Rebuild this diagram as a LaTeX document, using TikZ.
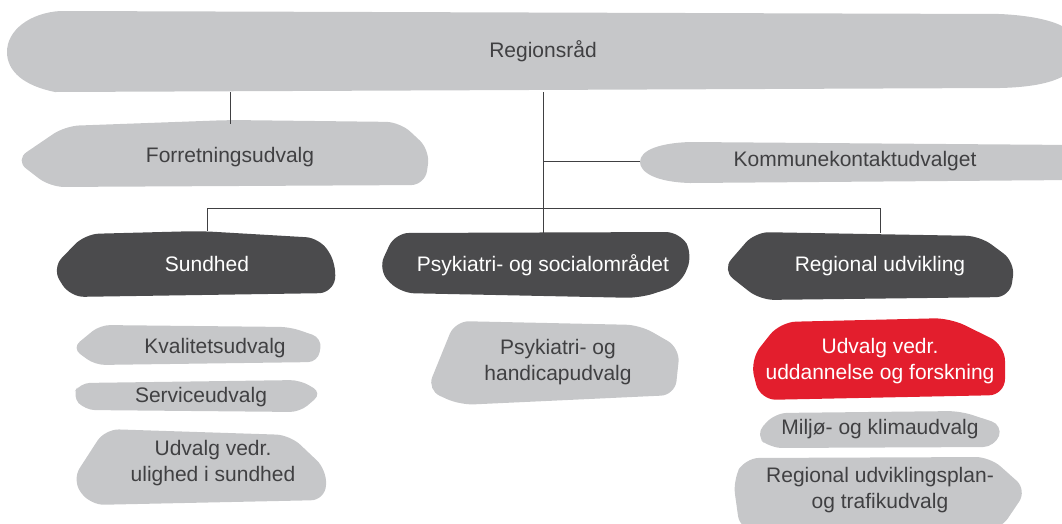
\documentclass[tikz,border=0pt]{standalone}
\usepackage{fontspec}
\setmainfont{Liberation Sans}
\definecolor{lgray}{HTML}{C6C7C9}
\definecolor{dgray}{HTML}{4B4B4D}
\definecolor{redc}{HTML}{E31E2D}
\definecolor{txt}{HTML}{404042}
\tikzset{
  lgb/.style={fill=lgray, rounded corners=14pt},
  dgb/.style={fill=dgray, rounded corners=14pt},
  rdb/.style={fill=redc, rounded corners=16pt},
  lbl/.style={font=\fontsize{21}{26}\selectfont, text=txt, align=center, inner sep=0pt},
  wlbl/.style={lbl, text=white},
  conn/.style={draw=txt, line width=0.8pt}
}
\begin{document}
\begin{tikzpicture}[x=1pt,y=-1pt]
\useasboundingbox (0,0) rectangle (1062,523);
\begin{scope}
\clip (0,0) rectangle (1062,523);
% blobs
\fill[lgray] (60,11) -- (1000,14) .. controls (1040,16) and (1080,24) .. (1080,50) .. controls (1080,80) and (1040,87) .. (1000,88) -- (55,92) .. controls (25,86) and (7,72) .. (7,52) .. controls (7,30) and (30,13) .. (60,11) -- cycle;
\fill[lgb] (65,126) -- (230,120) -- (400,122) -- (430,150) -- (425,185) -- (50,187) -- (15,160) -- cycle;
\fill[lgray] (690,142) -- (1075,145) -- (1075,180) -- (690,183) .. controls (655,182) and (640,172) .. (640,162) .. controls (640,150) and (660,143) .. (690,142) -- cycle;
\fill[dgb] (85,234) -- (200,231) -- (320,238) -- (337,265) -- (333,293) -- (70,297) -- (52,268) -- cycle;
\fill[dgb] (395,233) -- (680,232) -- (693,255) -- (680,285) -- (640,298) -- (400,293) -- (378,270) -- cycle;
\fill[dgb] (755,232) -- (980,236) -- (1015,262) -- (1010,297) -- (760,300) -- (722,270) -- cycle;
\fill[lgb, rounded corners=10pt] (100,325) -- (290,327) -- (322,338) -- (318,362) -- (95,365) -- (72,348) -- cycle;
\fill[lgb, rounded corners=10pt] (80,383) -- (300,380) -- (322,393) -- (300,412) -- (85,410) -- (72,396) -- cycle;
\fill[lgb] (105,429) -- (290,435) -- (327,470) -- (325,500) -- (90,505) -- (72,480) -- cycle;
\fill[lgb] (455,321) -- (640,325) -- (680,348) -- (675,395) -- (460,405) -- (427,390) -- cycle;
\fill[rdb] (780,322) -- (950,318) -- (1005,345) -- (1005,395) -- (760,400) -- (750,360) -- cycle;
\fill[lgb, rounded corners=12pt] (775,413) -- (960,411) -- (1003,425) -- (995,447) -- (770,448) -- (755,435) -- cycle;
\fill[lgb] (745,458) -- (990,457) -- (1027,490) -- (1000,530) -- (740,530) -- (733,480) -- cycle;
\end{scope}
% nodes
\node[lbl, minimum height=82pt] (reg) at (543,51) {Regionsråd};
\node[lbl, minimum height=66pt] (forr) at (230,157) {Forretningsudvalg};
\node[lbl, minimum height=41pt, minimum width=430pt] (kom) at (855,161) {Kommunekontaktudvalget};
\node[wlbl, minimum height=66pt] (sun) at (207,264) {Sundhed};
\node[wlbl, minimum height=64pt] (psy) at (543,265) {Psykiatri- og socialområdet};
\node[wlbl, minimum height=66pt] (rud) at (880,266) {Regional udvikling};
\node[lbl] (kval) at (215,348) {Kvalitetsudvalg};
\node[lbl] (serv) at (201,397) {Serviceudvalg};
\node[lbl] (ulig) at (213,463) {Udvalg vedr.\\ulighed i sundhed};
\node[lbl] (hand) at (558,362) {Psykiatri- og\\handicapudvalg};
\node[wlbl] (udd) at (880,361) {Udvalg vedr.\\uddannelse og forskning};
\node[lbl] (milj) at (880,429) {Miljø- og klimaudvalg};
\node[lbl] (plan) at (880,490) {Regional udviklingsplan-\\og trafikudvalg};
% connectors
\draw[conn] (forr.north) -- (forr.north |- reg.south);
\draw[conn] (psy.north) -- (psy.north |- reg.south);
\draw[conn] (kom.west) -- (kom.west -| psy.north);
\draw[conn] (sun.north) -- ++(0,-22) -| (rud.north);
\end{tikzpicture}
\end{document}
